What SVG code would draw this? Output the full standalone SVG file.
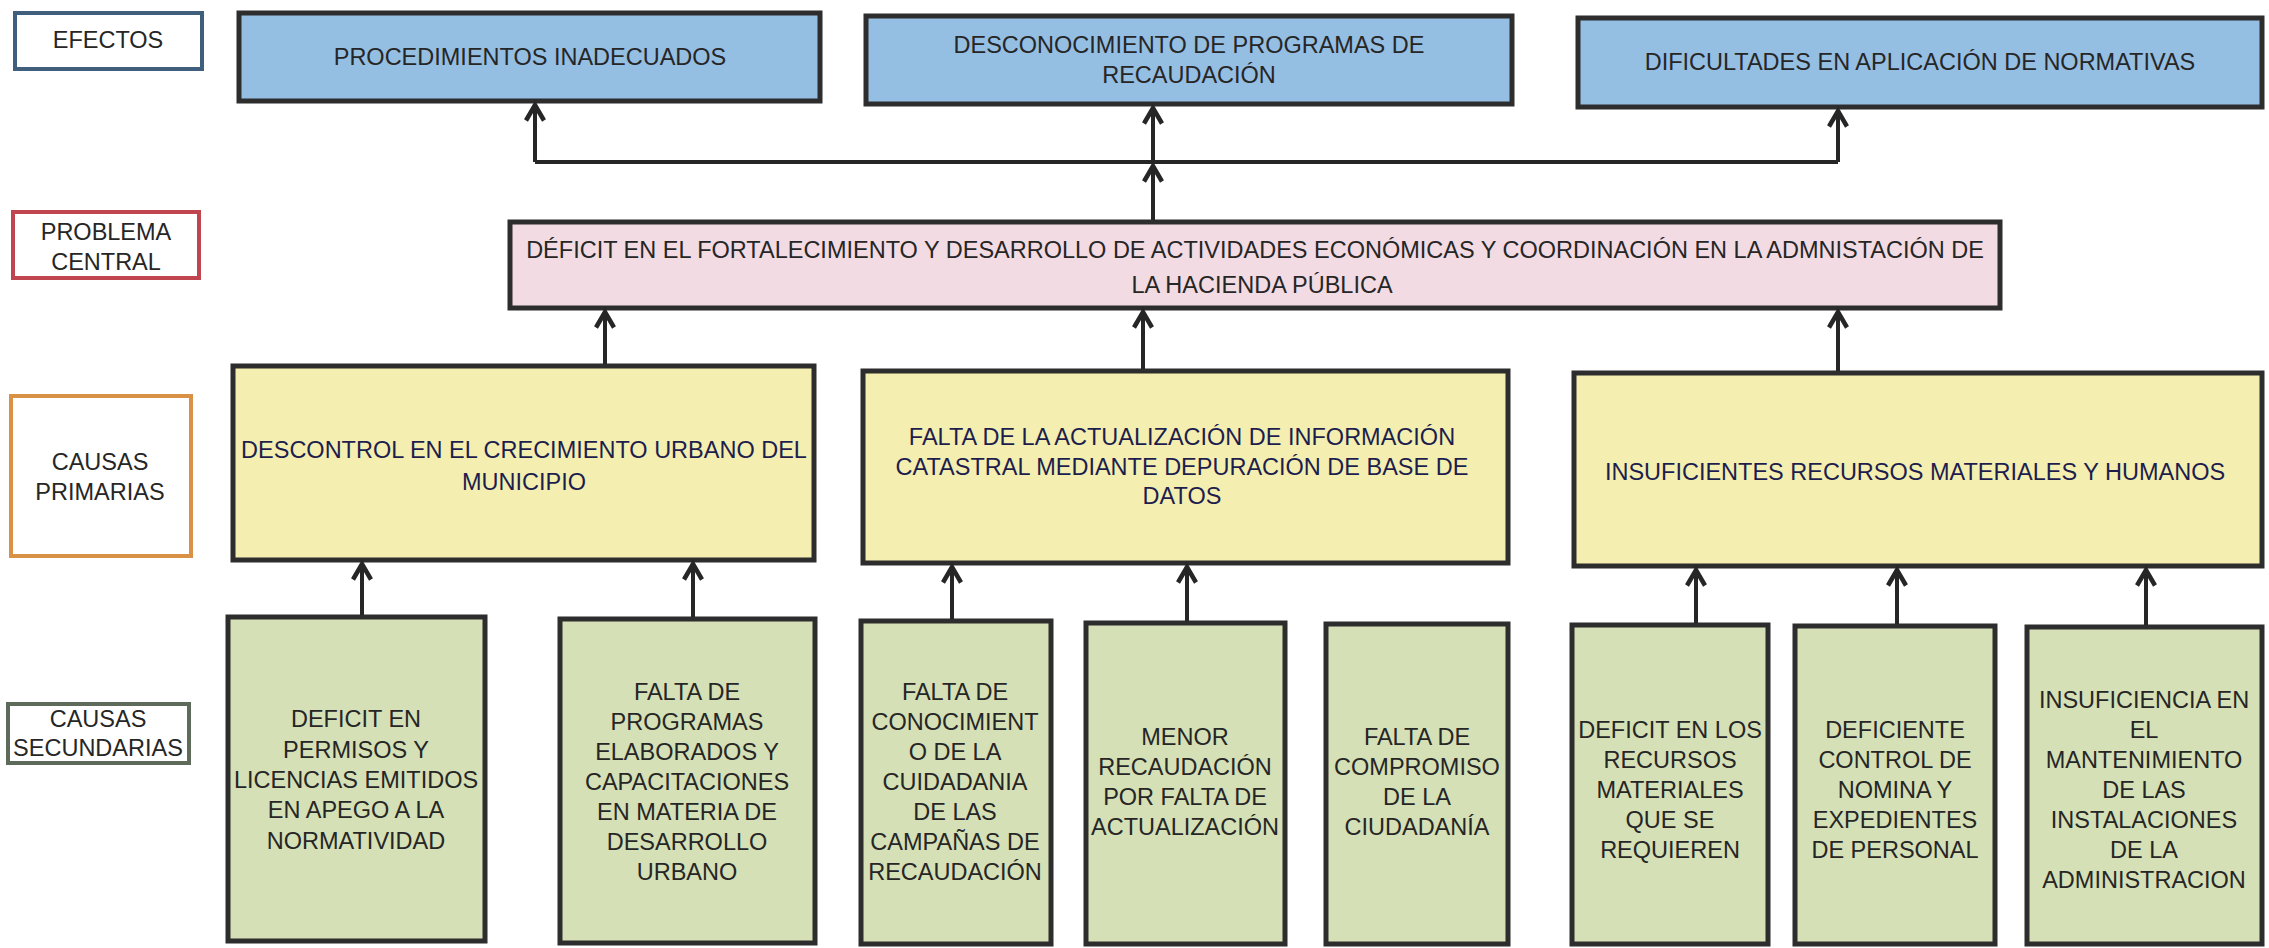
<svg xmlns="http://www.w3.org/2000/svg" width="2269" height="948" viewBox="0 0 2269 948">
<style>
text{font-family:"Liberation Sans",Arial,sans-serif;font-size:23.5px;text-anchor:middle;fill:#262626}
.lbl{fill:#fff;stroke-width:4}
.box{stroke:#2d2d2d;stroke-width:5}
.eff{fill:#95bee3}
.cen{fill:#f3dbe3}
.pri{fill:#f4efb0}
.sec{fill:#d5e0b6}
.pt{fill:#1e1e4e}
.con{stroke:#262626;stroke-width:4;fill:none}
</style>
<defs>
<marker id="ah" markerUnits="userSpaceOnUse" markerWidth="26" markerHeight="26" refX="21" refY="13" orient="auto" viewBox="0 0 26 26">
<path d="M4.5 4 L20 13 L4.5 22" fill="none" stroke="#262626" stroke-width="4.5" stroke-linejoin="miter"/>
</marker>
</defs>
<g id="lbl-efectos"><rect class="lbl" x="15" y="13" width="187" height="56" stroke="#3f5f7c"/><text x="108" y="48">EFECTOS</text></g>
<g id="lbl-problema"><rect class="lbl" x="13" y="212" width="186" height="66" stroke="#c0454e"/><text x="106" y="240">PROBLEMA</text><text x="106" y="270">CENTRAL</text></g>
<g id="lbl-primarias"><rect class="lbl" x="11" y="396" width="180" height="160" stroke="#d99245"/><text x="100" y="470">CAUSAS</text><text x="100" y="500">PRIMARIAS</text></g>
<g id="lbl-secundarias"><rect class="lbl" x="8" y="704" width="181" height="59" stroke="#5e6a5a"/><text x="98" y="727">CAUSAS</text><text x="98" y="756">SECUNDARIAS</text></g>

<g id="e1"><rect class="box eff" x="239" y="13" width="581" height="88"/><text x="530" y="65">PROCEDIMIENTOS INADECUADOS</text></g>
<g id="e2"><rect class="box eff" x="866" y="16" width="646" height="88"/><text x="1189" y="53">DESCONOCIMIENTO DE PROGRAMAS DE</text><text x="1189" y="83">RECAUDACIÓN</text></g>
<g id="e3"><rect class="box eff" x="1578" y="18" width="684" height="89"/><text x="1920" y="70">DIFICULTADES EN APLICACIÓN DE NORMATIVAS</text></g>

<g id="central"><rect class="box cen" x="510" y="222" width="1490" height="86"/><text x="1255" y="258">DÉFICIT EN EL FORTALECIMIENTO Y DESARROLLO DE ACTIVIDADES ECONÓMICAS Y COORDINACIÓN EN LA ADMNISTACIÓN DE</text><text x="1262" y="293">LA HACIENDA PÚBLICA</text></g>

<g id="p1"><rect class="box pri" x="233" y="366" width="581" height="194"/><text class="pt" x="524" y="458">DESCONTROL EN EL CRECIMIENTO URBANO DEL</text><text class="pt" x="524" y="490">MUNICIPIO</text></g>
<g id="p2"><rect class="box pri" x="863" y="371" width="645" height="192"/><text class="pt" x="1182" y="445">FALTA DE LA ACTUALIZACIÓN DE INFORMACIÓN</text><text class="pt" x="1182" y="475">CATASTRAL MEDIANTE DEPURACIÓN DE BASE DE</text><text class="pt" x="1182" y="504">DATOS</text></g>
<g id="p3"><rect class="box pri" x="1574" y="373" width="688" height="193"/><text class="pt" x="1915" y="480">INSUFICIENTES RECURSOS MATERIALES Y HUMANOS</text></g>

<g id="s1"><rect class="box sec" x="228" y="617" width="257" height="324"/><text x="356" y="727">DEFICIT EN</text><text x="356" y="758">PERMISOS Y</text><text x="356" y="788">LICENCIAS EMITIDOS</text><text x="356" y="818">EN APEGO A LA</text><text x="356" y="849">NORMATIVIDAD</text></g>
<g id="s2"><rect class="box sec" x="560" y="619" width="255" height="324"/><text x="687" y="700">FALTA DE</text><text x="687" y="730">PROGRAMAS</text><text x="687" y="760">ELABORADOS Y</text><text x="687" y="790">CAPACITACIONES</text><text x="687" y="820">EN MATERIA DE</text><text x="687" y="850">DESARROLLO</text><text x="687" y="880">URBANO</text></g>
<g id="s3"><rect class="box sec" x="861" y="621" width="190" height="323"/><text x="955" y="700">FALTA DE</text><text x="955" y="730">CONOCIMIENT</text><text x="955" y="760">O DE LA</text><text x="955" y="790">CUIDADANIA</text><text x="955" y="820">DE LAS</text><text x="955" y="850">CAMPAÑAS DE</text><text x="955" y="880">RECAUDACIÓN</text></g>
<g id="s4"><rect class="box sec" x="1086" y="623" width="199" height="321"/><text x="1185" y="745">MENOR</text><text x="1185" y="775">RECAUDACIÓN</text><text x="1185" y="805">POR FALTA DE</text><text x="1185" y="835">ACTUALIZACIÓN</text></g>
<g id="s5"><rect class="box sec" x="1326" y="624" width="182" height="320"/><text x="1417" y="745">FALTA DE</text><text x="1417" y="775">COMPROMISO</text><text x="1417" y="805">DE LA</text><text x="1417" y="835">CIUDADANÍA</text></g>
<g id="s6"><rect class="box sec" x="1572" y="625" width="196" height="319"/><text x="1670" y="738">DEFICIT EN LOS</text><text x="1670" y="768">RECURSOS</text><text x="1670" y="798">MATERIALES</text><text x="1670" y="828">QUE SE</text><text x="1670" y="858">REQUIEREN</text></g>
<g id="s7"><rect class="box sec" x="1795" y="626" width="200" height="318"/><text x="1895" y="738">DEFICIENTE</text><text x="1895" y="768">CONTROL DE</text><text x="1895" y="798">NOMINA Y</text><text x="1895" y="828">EXPEDIENTES</text><text x="1895" y="858">DE PERSONAL</text></g>
<g id="s8"><rect class="box sec" x="2027" y="627" width="235" height="317"/><text x="2144" y="708">INSUFICIENCIA EN</text><text x="2144" y="738">EL</text><text x="2144" y="768">MANTENIMIENTO</text><text x="2144" y="798">DE LAS</text><text x="2144" y="828">INSTALACIONES</text><text x="2144" y="858">DE LA</text><text x="2144" y="888">ADMINISTRACION</text></g>

<g id="connectors">
<path class="con" d="M535 162 H1838"/>
<path class="con" d="M535 162 V104" marker-end="url(#ah)"/>
<path class="con" d="M1153 162 V107" marker-end="url(#ah)"/>
<path class="con" d="M1838 162 V110" marker-end="url(#ah)"/>
<path class="con" d="M1153 220 V165" marker-end="url(#ah)"/>
<path class="con" d="M605 364 V311" marker-end="url(#ah)"/>
<path class="con" d="M1143 369 V311" marker-end="url(#ah)"/>
<path class="con" d="M1838 371 V311" marker-end="url(#ah)"/>
<path class="con" d="M362 615 V563" marker-end="url(#ah)"/>
<path class="con" d="M693 617 V563" marker-end="url(#ah)"/>
<path class="con" d="M952 619 V566" marker-end="url(#ah)"/>
<path class="con" d="M1187 621 V566" marker-end="url(#ah)"/>
<path class="con" d="M1696 623 V569" marker-end="url(#ah)"/>
<path class="con" d="M1897 624 V569" marker-end="url(#ah)"/>
<path class="con" d="M2146 625 V569" marker-end="url(#ah)"/>
</g>
</svg>
